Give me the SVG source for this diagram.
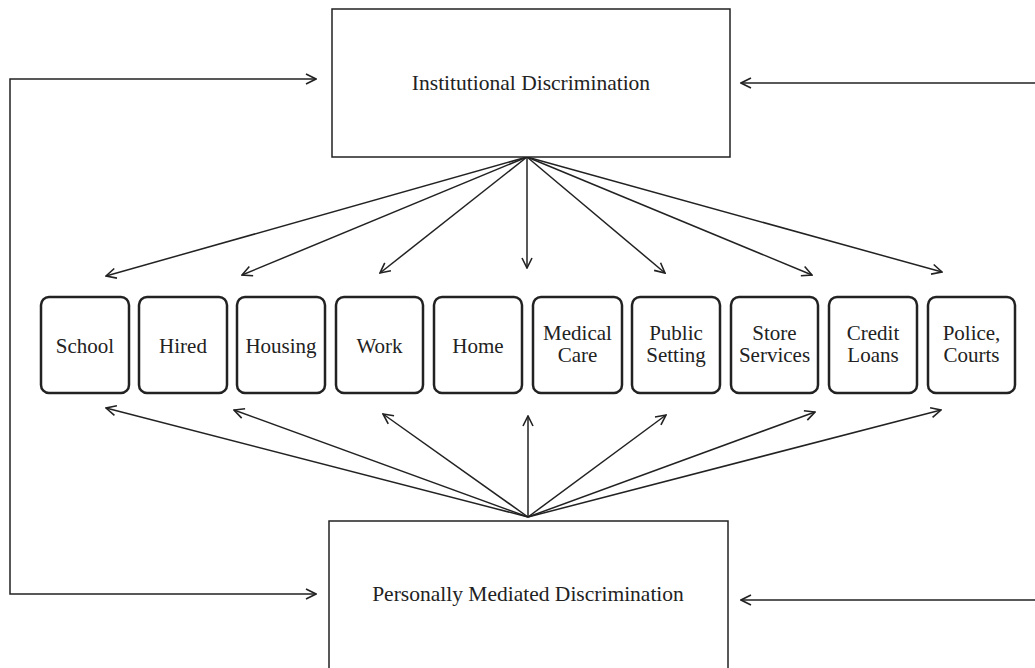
<svg xmlns="http://www.w3.org/2000/svg" width="1035" height="668" viewBox="0 0 1035 668">
<style>
.big{fill:#fff;stroke:#222;stroke-width:1.5}
.cat{fill:#fff;stroke:#222;stroke-width:2.5}
text{font-family:"Liberation Serif","Times New Roman",serif;font-size:21px;fill:#222;text-anchor:middle}
.lg{font-size:21.5px}
.c{fill:none;stroke:#222;stroke-width:1.5}
</style>
<defs>
<marker id="ah" viewBox="0 0 12 12" refX="11" refY="6" markerWidth="12" markerHeight="12" markerUnits="userSpaceOnUse" orient="auto-start-reverse">
<path d="M1,1 L11,6 L1,11" fill="none" stroke="#222" stroke-width="1.6"/>
</marker>
</defs>
<g id="connectors">
<path class="c" d="M316,79 H10 V594 H316" marker-start="url(#ah)" marker-end="url(#ah)"/>
<line class="c" x1="1035" y1="83" x2="741" y2="83" marker-end="url(#ah)"/>
<line class="c" x1="1035" y1="600" x2="741" y2="600" marker-end="url(#ah)"/>
<line class="c" x1="527" y1="157" x2="106" y2="276" marker-end="url(#ah)"/>
<line class="c" x1="527" y1="157" x2="242" y2="275" marker-end="url(#ah)"/>
<line class="c" x1="527" y1="157" x2="380" y2="273" marker-end="url(#ah)"/>
<line class="c" x1="527" y1="157" x2="527" y2="268" marker-end="url(#ah)"/>
<line class="c" x1="527" y1="157" x2="665" y2="273" marker-end="url(#ah)"/>
<line class="c" x1="527" y1="157" x2="812" y2="275" marker-end="url(#ah)"/>
<line class="c" x1="527" y1="157" x2="942" y2="272" marker-end="url(#ah)"/>
<line class="c" x1="528" y1="517" x2="106" y2="408" marker-end="url(#ah)"/>
<line class="c" x1="528" y1="517" x2="234" y2="410" marker-end="url(#ah)"/>
<line class="c" x1="528" y1="517" x2="383" y2="414" marker-end="url(#ah)"/>
<line class="c" x1="528" y1="517" x2="528" y2="416" marker-end="url(#ah)"/>
<line class="c" x1="528" y1="517" x2="666" y2="415" marker-end="url(#ah)"/>
<line class="c" x1="528" y1="517" x2="815" y2="412" marker-end="url(#ah)"/>
<line class="c" x1="528" y1="517" x2="941" y2="410" marker-end="url(#ah)"/>
</g>
<g id="institutional">
<rect class="big" x="332" y="9" width="398" height="148"/>
<text class="lg" x="531" y="90">Institutional Discrimination</text>
</g>
<g id="personal">
<rect class="big" x="329" y="521" width="399" height="160"/>
<text class="lg" x="528" y="601">Personally Mediated Discrimination</text>
</g>
<g id="school"><rect class="cat" x="41" y="297" width="88" height="96" rx="8"/><text x="85" y="353">School</text></g>
<g id="hired"><rect class="cat" x="139" y="297" width="88" height="96" rx="8"/><text x="183" y="353">Hired</text></g>
<g id="housing"><rect class="cat" x="237" y="297" width="88" height="96" rx="8"/><text x="281" y="353">Housing</text></g>
<g id="work"><rect class="cat" x="336" y="297" width="87" height="96" rx="8"/><text x="379.5" y="353">Work</text></g>
<g id="home"><rect class="cat" x="434" y="297" width="88" height="96" rx="8"/><text x="478" y="353">Home</text></g>
<g id="medical"><rect class="cat" x="533" y="297" width="89" height="96" rx="8"/><text x="577.5" y="340">Medical</text><text x="577.5" y="362">Care</text></g>
<g id="public"><rect class="cat" x="632" y="297" width="88" height="96" rx="8"/><text x="676" y="340">Public</text><text x="676" y="362">Setting</text></g>
<g id="store"><rect class="cat" x="731" y="297" width="87" height="96" rx="8"/><text x="774.5" y="340">Store</text><text x="774.5" y="362">Services</text></g>
<g id="credit"><rect class="cat" x="829" y="297" width="88" height="96" rx="8"/><text x="873" y="340">Credit</text><text x="873" y="362">Loans</text></g>
<g id="police"><rect class="cat" x="928" y="297" width="87" height="96" rx="8"/><text x="971.5" y="340">Police,</text><text x="971.5" y="362">Courts</text></g>
</svg>
